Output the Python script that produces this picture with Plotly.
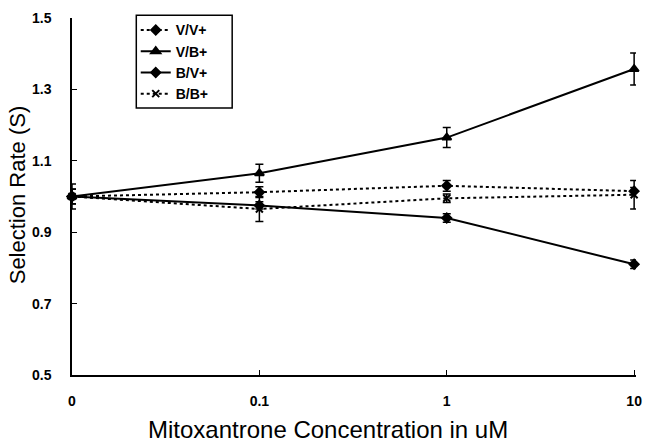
import plotly.graph_objects as go

conc_labels = ["0", "0.1", "1", "10"]
vv = [1.00, 1.012, 1.030, 1.015]
vv_err = [0.035, 0.015, 0.015, 0.010]
vb = [1.00, 1.065, 1.165, 1.357]
vb_err = [0.02, 0.025, 0.028, 0.045]
bv = [1.00, 0.975, 0.940, 0.810]
bv_err = [0.02, 0.010, 0.012, 0.012]
bb = [1.00, 0.965, 0.995, 1.005]
bb_err = [0.02, 0.035, 0.012, 0.040]
y_ticks = [0.5, 0.7, 0.9, 1.1, 1.3, 1.5]

xpos = list(range(len(conc_labels)))
FONT = "Arial, Liberation Sans, sans-serif"

series = [
    ("V/V+", vv, vv_err, "dot", "diamond", 7),
    ("V/B+", vb, vb_err, "solid", "triangle-up", 8),
    ("B/V+", bv, bv_err, "solid", "diamond", 7),
    ("B/B+", bb, bb_err, "dot", "x-thin-open", 7),
]

fig = go.Figure()
for name, y, err, dash, sym, size in series:
    fig.add_trace(go.Scatter(
        x=xpos, y=y, name=name, mode="lines+markers",
        line=dict(color="black", width=2, dash=dash),
        marker=dict(symbol=sym, size=size, color="black",
                    line=dict(color="black", width=2)),
        error_y=dict(type="data", array=err, visible=True,
                     color="black", thickness=1.5, width=4),
        cliponaxis=False,
    ))

fig.update_layout(
    width=651, height=444,
    margin=dict(l=72, r=9, t=18, b=69),
    paper_bgcolor="white", plot_bgcolor="white",
    font=dict(family=FONT, color="black"),
    showlegend=True,
    legend=dict(
        x=0.113, y=1.01, xanchor="left", yanchor="top",
        borderwidth=0, bgcolor="rgba(0,0,0,0)",
        font=dict(size=14, family=FONT, weight="bold", color="black"),
        tracegroupgap=0, itemwidth=30,
    ),
    shapes=[
        dict(type="rect", xref="paper", yref="paper",
             x0=0.114, x1=0.284, y0=0.748, y1=1.008,
             line=dict(color="black", width=1.5), fillcolor="rgba(0,0,0,0)",
             layer="above"),
    ],
    xaxis=dict(
        range=[0, 3.01], tickmode="array", tickvals=xpos, ticktext=conc_labels,
        showgrid=False, zeroline=False, showline=True, linecolor="black", linewidth=1.5,
        ticks="inside", ticklen=5, tickcolor="black",
        tickfont=dict(size=14, family=FONT, weight="bold", color="black"),
        ticklabelstandoff=12,
    ),
    yaxis=dict(
        range=[0.5, 1.5], tickmode="array", tickvals=y_ticks,
        ticktext=[f"{v:.1f}" for v in y_ticks],
        showgrid=False, zeroline=False, showline=True, linecolor="black", linewidth=1.5,
        ticks="inside", ticklen=5, tickcolor="black",
        tickfont=dict(size=14, family=FONT, weight="bold", color="black"),
        ticklabelstandoff=16,
    ),
    annotations=[
        dict(text="Mitoxantrone Concentration in uM", xref="paper", yref="paper",
             x=0.454, y=-0.154, xanchor="center", yanchor="middle", showarrow=False,
             font=dict(size=24, family=FONT, color="black")),
        dict(text="Selection Rate (S)", xref="paper", yref="paper",
             x=-0.0965, y=0.505, xanchor="center", yanchor="middle", showarrow=False,
             textangle=-90, font=dict(size=22, family=FONT, color="black")),
    ],
)

fig.write_html("out.html")
